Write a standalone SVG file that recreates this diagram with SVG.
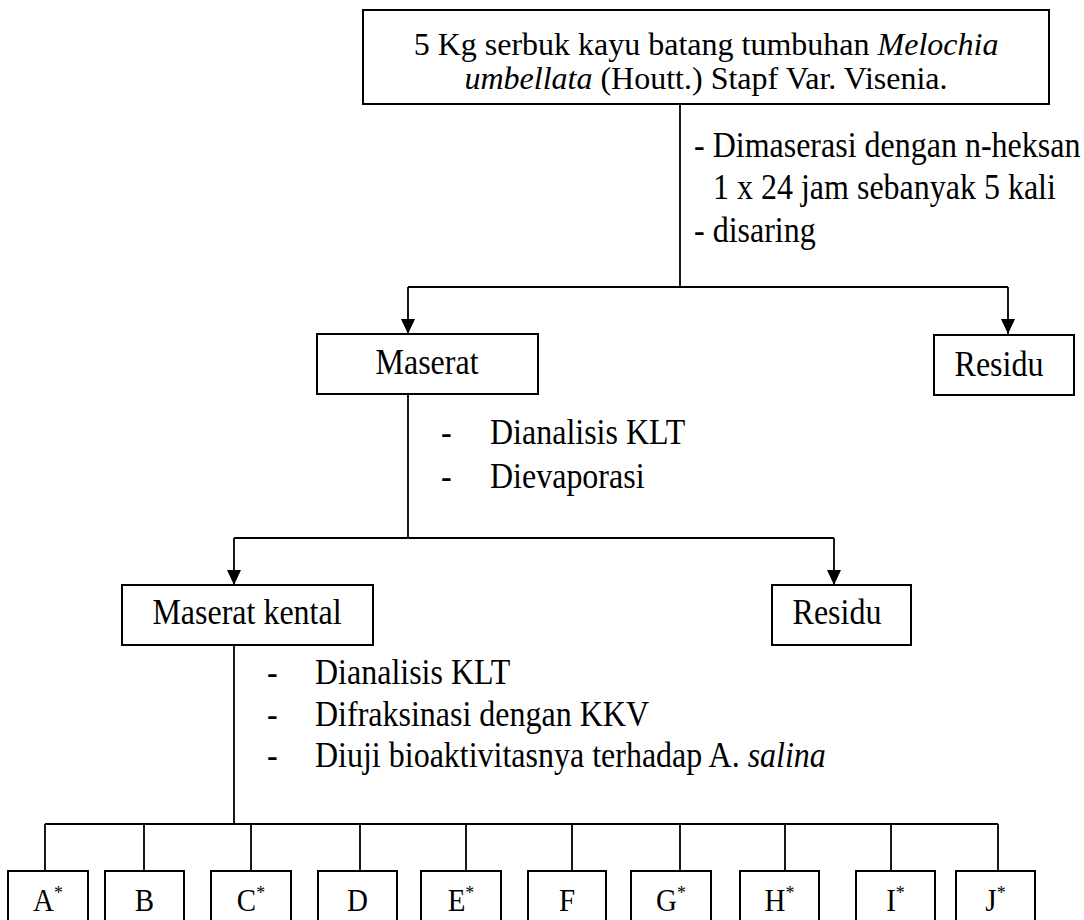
<svg xmlns="http://www.w3.org/2000/svg" width="1084" height="920" viewBox="0 0 1084 920">
<defs>
<style>
.box{fill:#fff;stroke:#000;stroke-width:2}
.ln{fill:none;stroke:#000;stroke-width:1.8}
text{font-family:"Liberation Serif","Times New Roman",serif;font-size:32px;fill:#000}
.c{text-anchor:middle}
.it{font-style:italic}
.lt{font-size:29px}
.sup{font-size:18px}
</style>
<marker id="arr" viewBox="0 0 15 14" refX="15" refY="7" markerWidth="15" markerHeight="14" markerUnits="userSpaceOnUse" orient="auto">
<path d="M0,0 L15,7 L0,14 z" fill="#000"/>
</marker>
</defs>
<rect width="1084" height="920" fill="#fff"/>

<g id="connectors">
<path class="ln" d="M680,104 V287"/>
<path class="ln" d="M408,287 H1008"/>
<path class="ln" d="M408,287 V334" marker-end="url(#arr)"/>
<path class="ln" d="M1008,287 V334" marker-end="url(#arr)"/>
<path class="ln" d="M408,394 V538"/>
<path class="ln" d="M234,538 H834"/>
<path class="ln" d="M234,538 V585" marker-end="url(#arr)"/>
<path class="ln" d="M834,538 V585" marker-end="url(#arr)"/>
<path class="ln" d="M234,645 V824"/>
<path class="ln" d="M45,824 H998"/>
<path class="ln" d="M45,824 V871 M144,824 V871 M251,824 V871 M360,824 V871 M466,824 V871 M572,824 V871 M680,824 V871 M785,824 V871 M891,824 V871 M998,824 V871"/>
</g>

<g id="labels">
<text transform="translate(694,157) scale(1,1.1)">- Dimaserasi dengan n-heksan</text>
<text transform="translate(713,199) scale(1,1.1)">1 x 24 jam sebanyak 5 kali</text>
<text transform="translate(694,242) scale(1,1.1)">- disaring</text>
<text transform="translate(441,444) scale(1,1.1)">-</text>
<text transform="translate(490,444) scale(1,1.1)">Dianalisis KLT</text>
<text transform="translate(441,488) scale(1,1.1)">-</text>
<text transform="translate(490,488) scale(1,1.1)">Dievaporasi</text>
<text transform="translate(267,684) scale(1,1.1)">-</text>
<text transform="translate(315,684) scale(1,1.1)">Dianalisis KLT</text>
<text transform="translate(267,726) scale(1,1.1)">-</text>
<text transform="translate(315,726) scale(1,1.1)">Difraksinasi dengan KKV</text>
<text transform="translate(267,767) scale(1,1.1)">-</text>
<text transform="translate(315,767) scale(1,1.1)">Diuji bioaktivitasnya terhadap A. <tspan class="it">salina</tspan></text>
</g>

<g id="start">
<rect class="box" x="363" y="10" width="686" height="94"/>
<text class="c" x="706" y="55">5 Kg serbuk kayu batang tumbuhan <tspan class="it">Melochia</tspan></text>
<text class="c" x="706" y="89"><tspan class="it">umbellata</tspan> (Houtt.) Stapf Var. Visenia.</text>
</g>

<g id="maserat">
<rect class="box" x="317" y="334" width="221" height="60"/>
<text class="c" transform="translate(427,374) scale(1,1.1)">Maserat</text>
</g>

<g id="residu1">
<rect class="box" x="934" y="335" width="140" height="60"/>
<text class="c" transform="translate(999,376) scale(1,1.1)">Residu</text>
</g>

<g id="maserat-kental">
<rect class="box" x="122" y="585" width="251" height="60"/>
<text class="c" transform="translate(247,624) scale(1,1.1)">Maserat kental</text>
</g>

<g id="residu2">
<rect class="box" x="772" y="585" width="139" height="60"/>
<text class="c" transform="translate(837,624) scale(1,1.1)">Residu</text>
</g>

<g id="fA"><rect class="box" x="8" y="871" width="80" height="60"/><text class="c lt" transform="translate(48,911) scale(1,1.1)">A<tspan class="sup" dy="-11">*</tspan></text></g>
<g id="fB"><rect class="box" x="105" y="871" width="79" height="60"/><text class="c lt" transform="translate(144.5,911) scale(1,1.1)">B</text></g>
<g id="fC"><rect class="box" x="211" y="871" width="80" height="60"/><text class="c lt" transform="translate(251,911) scale(1,1.1)">C<tspan class="sup" dy="-11">*</tspan></text></g>
<g id="fD"><rect class="box" x="318" y="871" width="79" height="60"/><text class="c lt" transform="translate(357.5,911) scale(1,1.1)">D</text></g>
<g id="fE"><rect class="box" x="421" y="871" width="80" height="60"/><text class="c lt" transform="translate(461,911) scale(1,1.1)">E<tspan class="sup" dy="-11">*</tspan></text></g>
<g id="fF"><rect class="box" x="528" y="871" width="78" height="60"/><text class="c lt" transform="translate(567,911) scale(1,1.1)">F</text></g>
<g id="fG"><rect class="box" x="631" y="871" width="80" height="60"/><text class="c lt" transform="translate(671,911) scale(1,1.1)">G<tspan class="sup" dy="-11">*</tspan></text></g>
<g id="fH"><rect class="box" x="740" y="871" width="79" height="60"/><text class="c lt" transform="translate(779.5,911) scale(1,1.1)">H<tspan class="sup" dy="-11">*</tspan></text></g>
<g id="fI"><rect class="box" x="856" y="871" width="79" height="60"/><text class="c lt" transform="translate(895.5,911) scale(1,1.1)">I<tspan class="sup" dy="-11">*</tspan></text></g>
<g id="fJ"><rect class="box" x="956" y="871" width="79" height="60"/><text class="c lt" transform="translate(995.5,911) scale(1,1.1)">J<tspan class="sup" dy="-11">*</tspan></text></g>
</svg>
